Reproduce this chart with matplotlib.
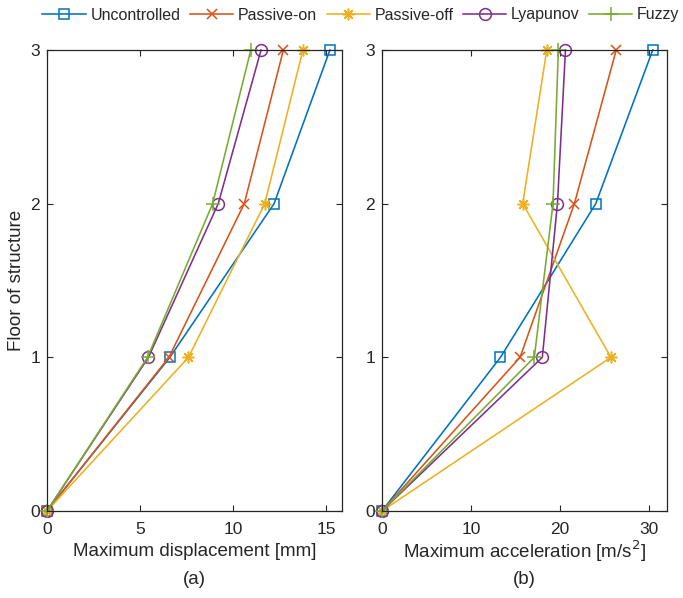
import matplotlib
matplotlib.use("Agg")
import matplotlib.pyplot as plt

plt.rcParams['font.family'] = ['Liberation Sans', 'DejaVu Sans']

floors = [0, 1, 2, 3]
series_names = ['Uncontrolled', 'Passive-on', 'Passive-off', 'Lyapunov', 'Fuzzy']

# maximum displacement [mm], floor 0..3
disp_unc = [0, 6.6, 12.2, 15.2]
disp_pon = [0, 6.55, 10.6, 12.7]
disp_poff = [0, 7.6, 11.7, 13.75]
disp_lya = [0, 5.45, 9.2, 11.5]
disp_fuz = [0, 5.4, 8.9, 10.95]

# maximum acceleration [m/s^2], floor 0..3
acc_unc = [0, 13.3, 24.0, 30.4]
acc_pon = [0, 15.5, 21.6, 26.3]
acc_poff = [0, 25.7, 15.8, 18.5]
acc_lya = [0, 18.0, 19.7, 20.6]
acc_fuz = [0, 17.1, 19.2, 19.8]

colors = ['#0072BD', '#D95319', '#EDB120', '#7E2F8E', '#77AC30']
markers = ['s', 'x', (8, 2, 0), 'o', '+']
sizes = [6.5, 6.5, 8.5, 8.5, 9.5]
axcol = '#262626'

fig = plt.figure(figsize=(6.83, 5.98), dpi=100)
ax1 = fig.add_axes([47 / 683, 1 - 511 / 598, 295 / 683, 461 / 598])
ax2 = fig.add_axes([382 / 683, 1 - 511 / 598, 285 / 683, 461 / 598])

disp_data = [disp_unc, disp_pon, disp_poff, disp_lya, disp_fuz]
acc_data = [acc_unc, acc_pon, acc_poff, acc_lya, acc_fuz]

handles = []
for ax, data in ((ax1, disp_data), (ax2, acc_data)):
    for vals, c, m, ms, name in zip(data, colors, markers, sizes, series_names):
        h, = ax.plot(vals, floors, color=c, marker=m, markersize=ms,
                     markerfacecolor='none', markeredgewidth=1.1, lw=1.15, label=name,
                     clip_on=False)
        if ax is ax1:
            handles.append(h)
    ax.set_ylim(0, 3)
    ax.set_yticks(floors)
    ax.tick_params(direction='in', top=True, right=True, length=4,
                   labelsize=12.5, colors=axcol, width=0.8)
    ax.tick_params(axis='x', pad=8)
    ax.tick_params(axis='y', pad=5)
    for s in ax.spines.values():
        s.set_color(axcol)
        s.set_linewidth(0.9)

ax1.set_xlim(0, 15.85)
ax1.set_xticks([0, 5, 10, 15])
ax2.set_xlim(0, 32)
ax2.set_xticks([0, 10, 20, 30])

ax1.set_xlabel('Maximum displacement [mm]', fontsize=13.5, color=axcol, labelpad=4)
ax2.set_xlabel('Maximum acceleration [m/s$^2$]', fontsize=13.5, color=axcol, labelpad=1)
ax1.set_ylabel('Floor of structure', fontsize=13.5, color=axcol)

fig.text((47 + 342) / 2 / 683, 1 - 580 / 598, '(a)', fontsize=13.5, color=axcol,
         ha='center', va='center')
fig.text((382 + 667) / 2 / 683, 1 - 579 / 598, '(b)', fontsize=13.5, color=axcol,
         ha='center', va='center')

fig.legend(handles=handles, loc='center', bbox_to_anchor=(361 / 683, 1 - 15 / 598),
           ncol=5, frameon=False, fontsize=11.5, handlelength=2.7, handletextpad=0.3,
           columnspacing=0.6, borderaxespad=0, labelcolor=axcol)

fig.savefig('out.png', dpi=100)
